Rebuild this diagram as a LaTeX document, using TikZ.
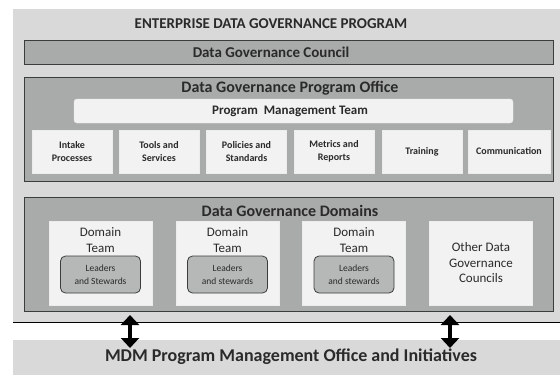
\documentclass[tikz,border=0pt]{standalone}
\usepackage{fontspec}
\setmainfont{Carlito}
\usetikzlibrary{arrows.meta}
\definecolor{lightbg}{HTML}{D9D9D9}
\definecolor{midbg}{HTML}{A8ABAA}
\definecolor{boxbg}{HTML}{F2F2F2}
\definecolor{edge}{HTML}{3A3D3C}
\definecolor{txt}{HTML}{2A2A2A}
\tikzset{
  panel/.style={draw=edge, line width=1pt, fill=midbg, minimum width=529pt, inner sep=0pt, anchor=center},
  whitebox/.style={fill=boxbg, draw=white!85!gray, line width=0.4pt, inner sep=0pt, align=center, text=txt},
  leadbox/.style={fill=midbg!85!white, draw=edge, line width=0.8pt, rounded corners=5pt, minimum width=80pt, minimum height=37pt, inner sep=0pt, align=center, text=txt, font=\fontsize{9.5}{13}\selectfont},
  lbl/.style={text=txt, inner sep=0pt},
  dblarrow/.style={line width=4.5pt, {Triangle[width=18pt,length=10pt]}-{Triangle[width=18pt,length=10pt]}, black}
}
\begin{document}
\begin{tikzpicture}[x=1pt,y=-1pt]
\useasboundingbox (0,0) rectangle (560,375);
\fill[white] (0,0) rectangle (560,375);
% outer panel
\node[fill=lightbg, minimum width=547pt, minimum height=313pt, inner sep=0pt] (outer) at (286.5,165.5) {};
\node[lbl, font=\bfseries\fontsize{15}{17}\selectfont] (title) at (271,24) {ENTERPRISE DATA GOVERNANCE PROGRAM};
% council
\node[panel, minimum height=24pt] (council) at (288.5,52) {};
\node[lbl, font=\bfseries\fontsize{15}{17}\selectfont] (councilt) at (271,52) {Data Governance Council};
% program office
\node[panel, minimum height=104pt] (office) at (288.5,129) {};
\node[lbl, font=\bfseries\fontsize{16}{18}\selectfont] (officet) at (290,88) {Data Governance Program Office};
\node[whitebox, rounded corners=3pt, minimum width=439pt, minimum height=24pt] (pmt) at (293.5,111) {};
\node[lbl, font=\bfseries\fontsize{13}{15}\selectfont] (pmtt) at (290,111) {Program\ \ Management Team};
\tikzset{small/.style={whitebox, minimum width=80pt, minimum height=43pt, font=\bfseries\fontsize{10}{13}\selectfont}}
\node[small] (b1) at (72,151.5) {Intake\\Processes};
\node[small] (b2) at (159,151.5) {Tools and\\Services};
\node[small] (b3) at (246.5,151.5) {Policies and\\Standards};
\node[small] (b4) at (334,151.5) {Metrics and\\Reports};
\node[small] (b5) at (422,151.5) {Training};
\node[small, minimum width=82pt] (b6) at (509,151.5) {Communication};
% domains
\node[panel, minimum height=114pt] (domains) at (288.5,254) {};
\node[lbl, font=\bfseries\fontsize{16}{18}\selectfont] (domainst) at (290,211) {Data Governance Domains};
\tikzset{dom/.style={whitebox, minimum width=103pt, minimum height=84pt}}
\node[dom] (d1) at (100.5,263) {};
\node[dom] (d2) at (227.5,263) {};
\node[dom] (d3) at (354,263) {};
\node[dom, font=\fontsize{13}{15.5}\selectfont] (d4) at (481,263) {Other Data\\Governance\\Councils};
\foreach \n/\x/\s in {1/100.5/Stewards,2/227.5/stewards,3/354/stewards}{
  \node[lbl, align=center, font=\fontsize{13}{16}\selectfont] (dt\n) at (\x,240) {Domain\\Team};
  \node[leadbox] (l\n) at (\x,274.5) {Leaders\\and \s};
}
% separator line
\coordinate (sepL) at (13,322);
\coordinate (sepR) at (560,322);
\draw[black, line width=1pt] (sepL) -- (sepR);
% bottom bar
\node[fill=lightbg, minimum width=547pt, minimum height=35pt, inner sep=0pt] (mdm) at (286.5,357.5) {};
\node[lbl, font=\bfseries\fontsize{18}{20}\selectfont] (mdmt) at (291,357) {MDM Program Management Office and Initiatives};
% arrows
\coordinate (a1t) at (130,315);
\coordinate (a1b) at (130,348);
\coordinate (a2t) at (450,315);
\coordinate (a2b) at (450,348);
\draw[dblarrow] (a1t) -- (a1b);
\draw[dblarrow] (a2t) -- (a2b);
\end{tikzpicture}
\end{document}
